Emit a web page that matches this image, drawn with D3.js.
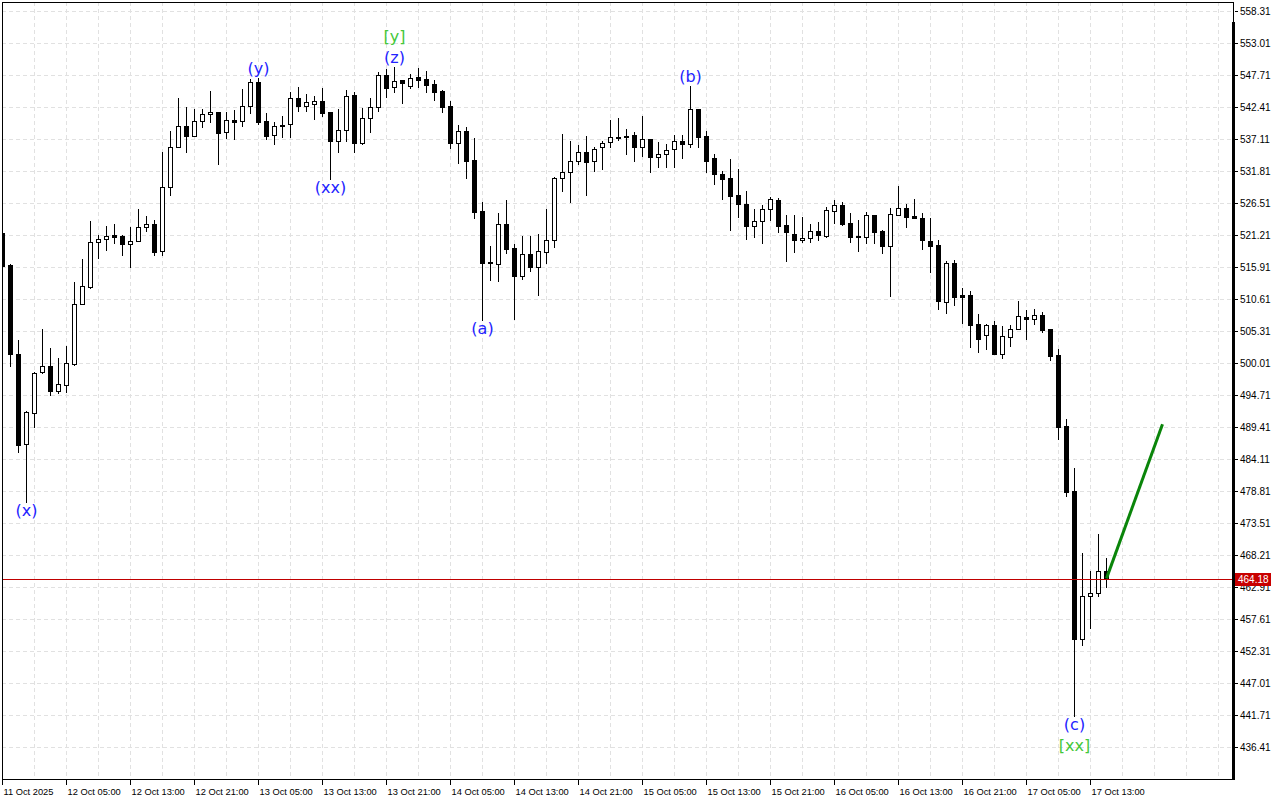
<!DOCTYPE html>
<html><head><meta charset="utf-8">
<script src="https://cdn.jsdelivr.net/npm/d3@7"></script>
<style>
html,body{margin:0;padding:0;background:#fff;}
svg{display:block;}
</style></head><body>
<svg id="chart" width="1280" height="800"></svg>
<script>
// ---- data (hourly bars starting 11 Oct 2025 21:00) ----
const opens = [521.6,516.23,501.59,486.66,491.80,498.54,499.48,495.39,496.45,499.93,
509.88,512.63,520.16,520.66,521.30,521.04,519.76,520.33,522.65,523.15,
518.55,529.12,535.85,539.33,537.68,540.11,541.22,541.56,538.34,540.30,
540.06,542.60,546.63,540.11,537.74,539.50,539.57,543.88,542.65,542.93,
543.43,541.56,536.85,538.62,544.43,536.42,540.56,542.39,547.74,545.70,
546.91,545.92,547.36,547.03,546.20,545.09,542.60,536.42,538.46,533.65,
525.19,516.75,516.51,523.15,519.17,514.46,518.17,515.95,518.44,520.49,
530.61,531.61,533.53,535.02,533.53,535.85,536.58,537.55,537.60,537.74,
535.85,537.13,534.19,534.59,535.42,536.80,536.25,542.10,537.63,533.93,
531.32,530.61,527.84,526.35,522.75,523.53,525.47,527.01,522.87,521.49,
520.49,520.83,521.87,521.09,525.24,526.18,523.25,521.10,520.93,524.52,
521.87,519.43,524.64,525.64,524.35,524.14,520.26,519.55,510.15,516.61,
511.25,511.26,506.45,504.74,506.28,501.59,504.34,505.73,507.70,507.39,
507.94,505.62,501.31,489.53,478.75,454.32,461.39,461.95,465.65];
const highs = [521.8,516.4,503.79,492.07,498.57,505.62,502.47,500.81,502.80,513.41,
517.23,523.53,521.21,522.70,523.15,521.20,522.58,525.52,524.36,523.81,
534.92,538.45,543.88,542.39,542.05,542.05,545.09,541.60,541.56,541.94,
545.37,547.03,547.19,541.49,539.90,540.94,544.97,545.70,544.59,544.26,
545.54,541.60,542.05,545.25,544.87,542.32,543.88,548.19,548.69,549.02,
546.95,547.86,548.85,548.41,546.91,545.20,543.43,539.45,539.17,537.24,
526.63,519.38,524.97,527.01,519.72,521.04,521.04,521.37,525.52,530.88,
537.96,536.80,536.13,537.63,535.75,536.80,540.28,540.56,538.74,538.34,
540.94,537.20,536.68,536.30,537.79,537.79,545.92,542.20,538.46,534.59,
531.77,533.81,532.15,528.50,525.52,526.18,527.56,527.40,524.52,524.52,
524.24,523.03,523.41,525.90,527.01,526.63,524.81,523.81,525.07,524.60,
522.04,525.64,529.33,526.46,527.29,524.91,523.98,520.49,516.90,517.06,
512.47,511.92,508.11,506.45,507.00,506.12,506.28,510.31,508.77,508.94,
508.49,505.73,502.42,490.81,482.62,468.52,465.65,471.62,467.76];
const lows = [515.8,499.48,485.27,476.98,489.42,498.37,494.67,495.05,495.22,499.76,
509.85,512.53,517.44,518.72,519.93,517.89,515.95,520.20,521.92,517.89,
518.01,527.84,535.75,535.02,537.60,539.07,540.00,532.98,537.34,537.18,
539.28,541.49,539.57,537.13,536.30,537.51,537.51,541.82,541.82,540.45,
540.99,530.49,534.92,536.85,534.92,536.30,538.34,541.82,544.14,544.97,
543.05,545.54,545.80,544.97,543.60,541.66,535.69,533.20,530.71,524.08,
507.23,513.74,513.63,518.27,507.39,514.03,515.29,511.26,516.68,519.27,
528.55,526.63,532.98,527.84,531.87,532.10,535.75,536.96,534.64,533.53,
534.31,531.71,532.53,532.53,532.53,534.03,535.75,535.75,531.61,529.67,
527.29,522.15,524.24,520.66,520.93,520.00,523.81,521.76,516.90,518.44,
520.10,520.10,520.49,520.93,523.25,522.87,520.10,518.60,519.93,519.93,
518.27,511.14,524.60,522.58,523.98,518.94,515.12,509.05,508.32,509.60,
506.66,502.68,501.85,502.42,501.47,500.93,502.85,505.60,504.08,506.56,
505.17,500.48,487.49,477.97,441.60,453.33,456.15,461.39,462.88];
const closes = [516.1,501.47,486.38,491.90,498.44,499.48,495.39,496.50,500.10,509.88,
512.75,520.16,520.66,521.16,520.90,519.76,520.33,522.65,523.15,518.44,
529.12,535.85,539.33,537.68,540.11,541.22,541.56,538.17,540.28,540.00,
542.60,546.63,540.00,537.68,539.33,539.30,543.88,542.65,543.21,543.43,
541.49,536.85,538.62,544.31,536.42,540.56,542.39,547.74,545.64,546.80,
546.47,547.19,546.91,546.08,544.97,542.49,536.42,538.46,533.53,525.07,
516.68,516.55,523.15,519.00,514.46,518.17,515.95,518.60,520.49,530.71,
531.61,533.48,534.92,533.36,535.42,536.42,537.41,537.30,537.40,535.85,
537.13,534.19,534.59,535.30,536.80,536.25,542.05,537.51,533.50,531.27,
530.54,527.73,526.30,522.75,523.53,525.47,527.18,522.75,521.66,520.49,
520.83,521.87,521.32,525.35,526.18,523.03,520.93,521.00,524.52,521.76,
519.43,524.69,525.64,524.24,524.00,520.38,519.43,510.31,516.61,510.98,
510.95,506.28,503.96,506.28,501.59,504.46,505.73,507.78,507.40,507.94,
505.45,501.19,489.42,478.64,454.32,461.51,461.95,465.65,464.18];

const yTicks = [558.31,553.01,547.71,542.41,537.11,531.81,526.51,521.21,515.91,510.61,
505.31,500.01,494.71,489.41,484.11,478.81,473.51,468.21,462.91,457.61,452.31,447.01,441.71,436.41];
const xTickIndex = [0,8,16,24,32,40,48,56,64,72,80,88,96,104,112,120,128,136];
const xTickLabels = ["11 Oct 2025","12 Oct 05:00","12 Oct 13:00","12 Oct 21:00","13 Oct 05:00",
"13 Oct 13:00","13 Oct 21:00","14 Oct 05:00","14 Oct 13:00","14 Oct 21:00","15 Oct 05:00",
"15 Oct 13:00","15 Oct 21:00","16 Oct 05:00","16 Oct 13:00","16 Oct 21:00","17 Oct 05:00","17 Oct 13:00"];
const currentPrice = 464.18;
const projIndex = [138,145];
const projPrice = [464.35,489.9];
const waveLabels = ["(x)","(y)","(xx)","(z)","(a)","(b)","(c)"];
const waveIndex = [3,32,41,49,60,86,134];
const waveSide = ["low","high","low","high","low","high","low"];
const degreeLabels = ["[y]","[xx]"];
const degreeIndex = [49,134];
const degreeSide = ["high","low"];

// ---- layout ----
const L = 2, T = 2, R = 1232, B = 779;
const svg = d3.select("#chart");
const x = d3.scaleLinear().domain([0,138]).range([2.5,1106.5]);
const y = d3.scaleLinear().domain([558.31,436.41]).range([11.3,747]);
const ry = v => Math.round(y(v));

svg.append("defs").append("clipPath").attr("id","plot")
  .append("rect").attr("x",L).attr("y",T).attr("width",R-L).attr("height",B-T);

// grid
const grid = svg.append("g").attr("clip-path","url(#plot)")
  .attr("stroke","#e1e1e1").attr("stroke-dasharray","4,3").attr("shape-rendering","crispEdges");
grid.selectAll("line.h").data(yTicks).join("line").attr("class","h")
  .attr("x1",L).attr("x2",R).attr("y1",d=>ry(d)+0.5).attr("y2",d=>ry(d)+0.5);
const vIdx = d3.range(4, 160, 4).filter(i => x(i) < R);
grid.selectAll("line.v").data(vIdx).join("line").attr("class","v")
  .attr("y1",T).attr("y2",B).attr("x1",d=>x(d)).attr("x2",d=>x(d));

// candles
const data = opens.map((o,i)=>({i,o,h:highs[i],l:lows[i],c:closes[i]}));
const cg = svg.append("g").attr("clip-path","url(#plot)");
cg.selectAll("line.wick").data(data).join("line").attr("class","wick")
  .attr("x1",d=>x(d.i)).attr("x2",d=>x(d.i))
  .attr("y1",d=>ry(d.h)).attr("y2",d=>ry(d.l)+1)
  .attr("stroke","#000").attr("stroke-width",1);
cg.selectAll("rect.bear").data(data.filter(d=>d.c<=d.o)).join("rect").attr("class","bear")
  .attr("x",d=>x(d.i)-2.5).attr("width",5)
  .attr("y",d=>ry(d.o)).attr("height",d=>Math.max(ry(d.c)-ry(d.o)+1,2))
  .attr("fill","#000");
cg.selectAll("rect.bull").data(data.filter(d=>d.c>d.o)).join("rect").attr("class","bull")
  .attr("x",d=>x(d.i)-2).attr("width",4)
  .attr("y",d=>ry(d.c)+0.5).attr("height",d=>Math.max(ry(d.o)-ry(d.c),1))
  .attr("fill","#fff").attr("stroke","#000").attr("stroke-width",1);

// current price line
svg.append("line").attr("x1",L).attr("x2",R)
  .attr("y1",ry(currentPrice)+0.5).attr("y2",ry(currentPrice)+0.5)
  .attr("stroke","#c00000").attr("stroke-width",1);

// projection line
svg.append("path").datum(projIndex.map((d,i)=>[d,projPrice[i]]))
  .attr("d", d3.line().x(d=>x(d[0])).y(d=>y(d[1])))
  .attr("stroke","#0a850a").attr("stroke-width",3).attr("fill","none");

// wave labels
const labelY = (i, side, off) => side==="high" ? y(highs[i]) - off : y(lows[i]) + off;
svg.append("g").selectAll("text").data(waveLabels).join("text")
  .attr("x",(d,k)=>x(waveIndex[k]))
  .attr("y",(d,k)=>waveSide[k]==="high" ? labelY(waveIndex[k],"high",4) : labelY(waveIndex[k],"low",14))
  .attr("text-anchor","middle").attr("font-family","DejaVu Sans, sans-serif")
  .attr("font-size",16).attr("fill","#2323ff").text(d=>d);
svg.append("g").selectAll("text").data(degreeLabels).join("text")
  .attr("x",(d,k)=>x(degreeIndex[k]))
  .attr("y",(d,k)=>degreeSide[k]==="high" ? labelY(degreeIndex[k],"high",25) : labelY(degreeIndex[k],"low",35))
  .attr("text-anchor","middle").attr("font-family","DejaVu Sans, sans-serif")
  .attr("font-size",16).attr("fill","#44c83a").text(d=>d);

// frame
const fr = svg.append("g").attr("shape-rendering","crispEdges");
fr.append("line").attr("x1",L).attr("x2",R+1).attr("y1",T+0.5).attr("y2",T+0.5).attr("stroke","#000");
fr.append("line").attr("x1",L+0.5).attr("x2",L+0.5).attr("y1",T).attr("y2",B+1).attr("stroke","#000");
fr.append("line").attr("x1",L).attr("x2",R+2).attr("y1",B+0.5).attr("y2",B+0.5).attr("stroke","#000");
fr.append("line").attr("x1",R+1.5).attr("x2",R+1.5).attr("y1",T).attr("y2",B+1).attr("stroke","#000");
fr.append("rect").attr("x",R).attr("y",22).attr("width",3).attr("height",B-21).attr("fill","#000");

// y axis
const yAxis = svg.append("g").attr("transform",`translate(${R+3},0)`)
  .call(d3.axisRight(y).tickValues(yTicks).tickFormat(d3.format(".2f")).tickSize(3).tickPadding(2).offset(0));
yAxis.select(".domain").remove();
yAxis.selectAll(".tick").attr("transform",d=>`translate(0,${ry(d)+0.5})`);
yAxis.selectAll(".tick line").attr("stroke","#000").attr("shape-rendering","crispEdges");
yAxis.selectAll(".tick text").attr("font-family","Liberation Sans, Arial, sans-serif")
  .attr("font-size",10).attr("fill","#000");

// x axis
const xAxis = svg.append("g").attr("transform",`translate(0,${B+1})`)
  .call(d3.axisBottom(x).tickValues(xTickIndex).tickFormat((d,i)=>xTickLabels[i]).tickSize(5).tickPadding(3).offset(0));
xAxis.select(".domain").remove();
xAxis.selectAll(".tick line").attr("stroke","#000").attr("shape-rendering","crispEdges");
xAxis.selectAll(".tick text").attr("text-anchor","start").attr("x",1)
  .attr("font-family","Liberation Sans, Arial, sans-serif").attr("font-size",9.3).attr("fill","#000");

// current price label
const py = ry(currentPrice);
svg.append("rect").attr("x",R+3).attr("y",py-6).attr("width",36).attr("height",13).attr("fill","#c80000");
svg.append("text").attr("x",R+6).attr("y",py+4).attr("font-family","Liberation Sans, Arial, sans-serif")
  .attr("font-size",10).attr("fill","#fff").text(currentPrice.toFixed(2));
</script>
</body></html>
